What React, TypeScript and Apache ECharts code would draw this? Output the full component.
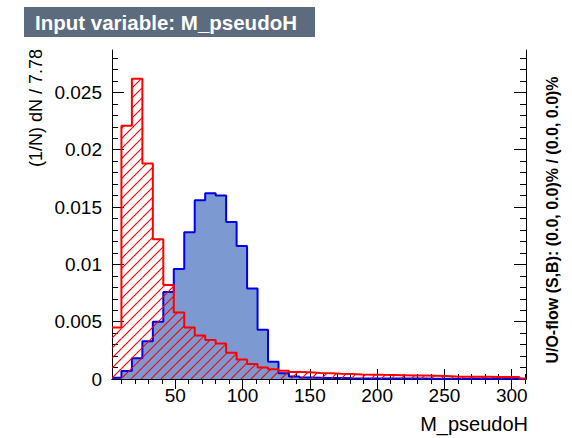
import React, { useEffect, useRef } from "react";
import * as echarts from "echarts";

// x range of the histogram frame and the binning
const xMin = 3;
const xMax = 310.6;
const firstEdge = 10;
const binWidth = 7.78;

// background (red, hatched) normalised bin contents
const backgroundValues = [
  0.0045, 0.0221, 0.0262, 0.0188, 0.0122, 0.0082, 0.0058, 0.0045, 0.0038, 0.0034,
  0.0031, 0.0023, 0.0017, 0.0013, 0.001, 0.00085, 0.00072, 0.00062, 0.00058, 0.00052,
  0.0005, 0.00046, 0.00044, 0.0004, 0.00038, 0.00036, 0.00035, 0.00033, 0.00031, 0.0003,
  0.00028, 0.00026, 0.00022, 0.0002, 0.0002, 0.00019, 0.00018, 0.00018, 0.00017, 0.00004,
];

// signal (blue, filled) normalised bin contents
const signalValues = [
  0.0001, 0.0007, 0.0018, 0.0033, 0.005, 0.0076, 0.0096, 0.0128, 0.0156, 0.0162,
  0.016, 0.0137, 0.0116, 0.0079, 0.0043, 0.0015, 0.0005, 0.00022, 0.00012, 0.0001,
  0.00008, 0.00008, 0.00006, 0.00005, 0.00005, 0.00005, 0.00004, 0.00004, 0.00004, 0.00004,
  0.00003, 0.00003, 0.00003, 0.00003, 0.00003, 0.00003, 0.00002, 0.00002, 0.00002, 0.00001,
];

const xMajorTicks = [50, 100, 150, 200, 250, 300];
const xMinorTicks = [10, 20, 30, 40, 60, 70, 80, 90, 110, 120, 130, 140, 160, 170, 180, 190, 210, 220, 230, 240, 260, 270, 280, 290, 310];
const yMax = 0.0287;
const yMajorTicks = [0, 0.005, 0.01, 0.015, 0.02, 0.025];
const yMinorTicks = [
  0.001, 0.002, 0.003, 0.004, 0.006, 0.007, 0.008, 0.009, 0.011, 0.012, 0.013, 0.014,
  0.016, 0.017, 0.018, 0.019, 0.021, 0.022, 0.023, 0.024, 0.026, 0.027, 0.028,
];

const titleText = "Input variable: M_pseudoH";
const xTitle = "M_pseudoH";
const yTitle = "(1/N) dN / 7.78";
const flowText = "U/O-flow (S,B): (0.0, 0.0)% / (0.0, 0.0)%";

function binEdges(n: number): number[] {
  const edges = [xMin];
  for (let k = 1; k < n; k++) edges.push(firstEdge + (k - 1) * binWidth);
  edges.push(xMax);
  return edges;
}

function histData(values: number[]): [number, number][] {
  const e = binEdges(values.length);
  const d: [number, number][] = values.map((v, i) => [e[i], v]);
  d.push([e[values.length], values[values.length - 1]]);
  return d;
}

function binData(values: number[]): [number, number, number][] {
  const e = binEdges(values.length);
  return values.map((v, i) => [e[i], e[i + 1], v]);
}

const HATCH_SPACING = 10;
const HATCH_COLOR = "#ff0000";
const FONT = "'Liberation Sans', Arial, Helvetica, sans-serif";

function renderHatch(params: any, api: any) {
  const x0 = api.value(0);
  const x1 = api.value(1);
  const v = api.value(2);
  const pA = api.coord([x0, v]);
  const pB = api.coord([x1, 0]);
  const left = pA[0];
  const right = pB[0];
  const top = pA[1];
  const bottom = pB[1];
  const children: any[] = [];
  if (bottom - top < 0.5) return { type: "group", children };
  const cStart = Math.floor((left + top) / HATCH_SPACING) * HATCH_SPACING;
  for (let c = cStart; c <= right + bottom; c += HATCH_SPACING) {
    const xa = Math.max(left, c - bottom);
    const xb = Math.min(right, c - top);
    if (xb - xa <= 0.01) continue;
    children.push({
      type: "line",
      shape: { x1: xa, y1: c - xa, x2: xb, y2: c - xb },
      style: { stroke: HATCH_COLOR, fill: null, lineWidth: 1.1, opacity: 1 },
      silent: true,
    });
  }
  return { type: "group", children };
}

export default function App() {
  const ref = useRef<HTMLDivElement>(null);
  useEffect(() => {
    if (!ref.current) return;
    const chart = echarts.init(ref.current, null, { renderer: "svg" });
    const black = "#000";
    const xAxisBase = {
      type: "value" as const,
      min: xMin,
      max: xMax,
      gridIndex: 0,
      splitLine: { show: false },
    };
    const yAxisBase = {
      type: "value" as const,
      min: 0,
      max: yMax,
      gridIndex: 0,
      splitLine: { show: false },
    };
    chart.setOption({
      animation: false,
      backgroundColor: "#fff",
      grid: { left: 112, top: 50, width: 414, height: 329, outerBoundsMode: "none", containLabel: false },
      xAxis: [
        {
          ...xAxisBase,
          position: "bottom",
          axisLine: { show: true, lineStyle: { color: black, width: 1 } },
          axisTick: { show: true, inside: true, length: 10, customValues: xMajorTicks, lineStyle: { color: black } },
          axisLabel: { show: true, customValues: xMajorTicks, color: black, fontSize: 19, fontFamily: FONT, margin: 7 },
        },
        {
          ...xAxisBase,
          position: "bottom",
          axisLine: { show: false },
          axisTick: { show: true, inside: true, length: 5, customValues: xMinorTicks, lineStyle: { color: black } },
          axisLabel: { show: false },
        },
        {
          ...xAxisBase,
          position: "top",
          axisLine: { show: true, lineStyle: { color: black, width: 1 } },
          axisTick: { show: true, inside: true, length: 10, customValues: xMajorTicks, lineStyle: { color: black } },
          axisLabel: { show: false },
        },
        {
          ...xAxisBase,
          position: "top",
          axisLine: { show: false },
          axisTick: { show: true, inside: true, length: 5, customValues: xMinorTicks, lineStyle: { color: black } },
          axisLabel: { show: false },
        },
      ],
      yAxis: [
        {
          ...yAxisBase,
          position: "left",
          axisLine: { show: true, lineStyle: { color: black, width: 1 } },
          axisTick: { show: true, inside: true, length: 12, customValues: yMajorTicks, lineStyle: { color: black } },
          axisLabel: {
            show: true,
            customValues: yMajorTicks,
            color: black,
            fontSize: 19,
            fontFamily: FONT,
            margin: 10,
            formatter: (v: number) => String(v),
          },
        },
        {
          ...yAxisBase,
          position: "left",
          axisLine: { show: false },
          axisTick: { show: true, inside: true, length: 6, customValues: yMinorTicks, lineStyle: { color: black } },
          axisLabel: { show: false },
        },
        {
          ...yAxisBase,
          position: "right",
          axisLine: { show: true, lineStyle: { color: black, width: 1 } },
          axisTick: { show: true, inside: true, length: 12, customValues: yMajorTicks, lineStyle: { color: black } },
          axisLabel: { show: false },
        },
        {
          ...yAxisBase,
          position: "right",
          axisLine: { show: false },
          axisTick: { show: true, inside: true, length: 6, customValues: yMinorTicks, lineStyle: { color: black } },
          axisLabel: { show: false },
        },
      ],
      series: [
        {
          name: "Signal",
          type: "line",
          xAxisIndex: 0,
          yAxisIndex: 0,
          step: "end",
          symbol: "none",
          data: histData(signalValues),
          lineStyle: { color: "#0000ee", width: 2 },
          areaStyle: { color: "#7d99d1", opacity: 1 },
          z: 2,
        },
        {
          name: "Background hatch",
          type: "custom",
          xAxisIndex: 0,
          yAxisIndex: 0,
          data: binData(backgroundValues),
          renderItem: renderHatch,
          itemStyle: { color: HATCH_COLOR },
          clip: true,
          silent: true,
          z: 3,
        },
        {
          name: "Background",
          type: "line",
          xAxisIndex: 0,
          yAxisIndex: 0,
          step: "end",
          symbol: "none",
          data: histData(backgroundValues),
          lineStyle: { color: "#ff0000", width: 2 },
          z: 4,
        },
      ],
      graphic: [
        {
          type: "rect",
          shape: { x: 24, y: 7, width: 291, height: 30 },
          style: { fill: "#5c6b7e" },
          z: 10,
        },
        {
          type: "text",
          x: 35,
          y: 22,
          style: {
            text: titleText,
            fill: "#fff",
            font: `bold 20.5px ${FONT}`,
            verticalAlign: "middle",
            align: "left",
          },
          z: 11,
        },
        {
          type: "text",
          x: 528,
          y: 424,
          style: { text: xTitle, fill: black, font: `20px ${FONT}`, align: "right", verticalAlign: "middle" },
        },
        {
          type: "text",
          x: 36,
          y: 49,
          rotation: Math.PI / 2,
          style: { text: yTitle, fill: black, font: `18px ${FONT}`, align: "right", verticalAlign: "middle" },
        },
        {
          type: "text",
          x: 552,
          y: 220,
          rotation: Math.PI / 2,
          style: { text: flowText, fill: black, font: `bold 16px ${FONT}`, align: "center", verticalAlign: "middle" },
        },
      ],
    });
    return () => chart.dispose();
  }, []);
  return <div ref={ref} style={{ width: 572, height: 438, position: "absolute", left: 0, top: 0 }} />;
}
